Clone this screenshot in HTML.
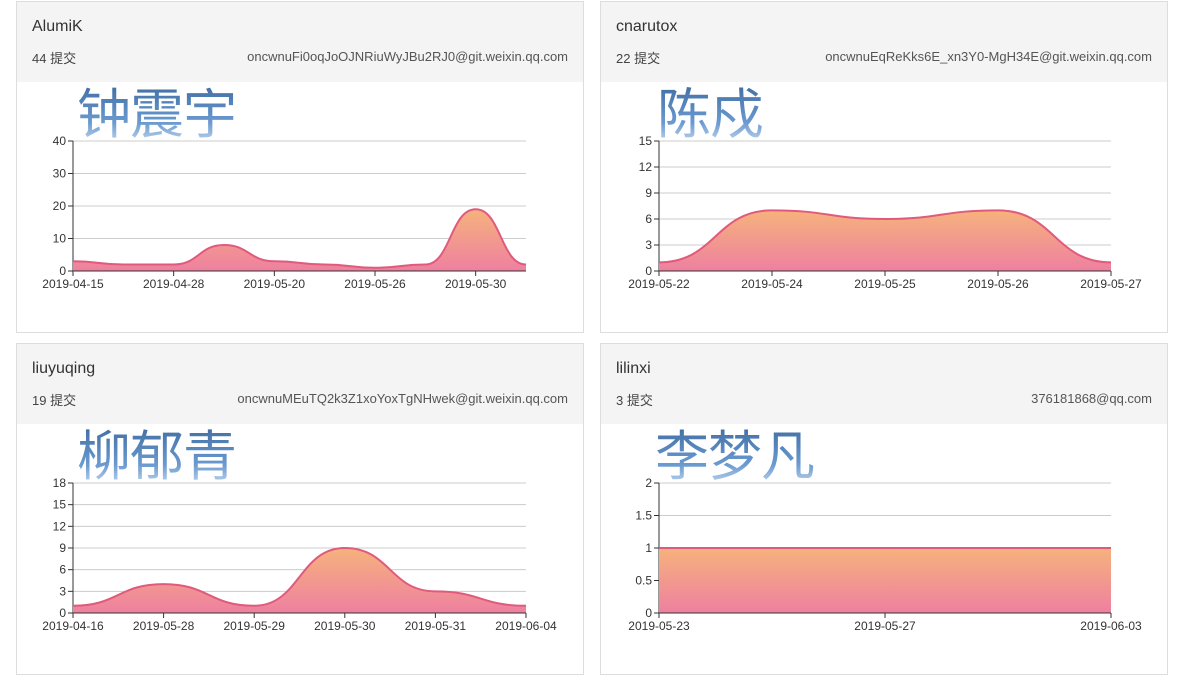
<!DOCTYPE html>
<html><head><meta charset="utf-8">
<style>
body{margin:0;width:1200px;height:675px;background:#fff;font-family:"Liberation Sans","Noto Sans CJK SC",sans-serif;position:relative;overflow:hidden}
.panel{position:absolute;width:568px;height:332px;border:1px solid #ddd;box-sizing:border-box;background:#fff}
.hdr{position:absolute;left:0;top:0;right:0;height:80px;background:#f4f4f4}
.title{position:absolute;left:15px;top:16px;font-size:16px;color:#333}
.cnt{position:absolute;left:15px;top:46px;font-size:13px;color:#444}
.mail{position:absolute;right:15px;top:47px;font-size:13px;color:#555}
.name{position:absolute;top:78px;font-size:54px;font-family:"Noto Sans CJK SC",sans-serif;line-height:64px;background:linear-gradient(#3a679c,#6a9ad0 70%,#bcd3ec);-webkit-background-clip:text;background-clip:text;color:transparent;letter-spacing:-1px}
svg{position:absolute;left:0;top:0}
</style></head><body>
<div class="panel" style="left:16px;top:1px"><div class="hdr"><div class="title">AlumiK</div><div class="cnt">44 提交</div><div class="mail">oncwnuFi0oqJoOJNRiuWyJBu2RJ0@git.weixin.qq.com</div></div></div>
<div class="panel" style="left:600px;top:1px"><div class="hdr"><div class="title">cnarutox</div><div class="cnt">22 提交</div><div class="mail">oncwnuEqReKks6E_xn3Y0-MgH34E@git.weixin.qq.com</div></div></div>
<div class="panel" style="left:16px;top:343px"><div class="hdr"><div class="title">liuyuqing</div><div class="cnt">19 提交</div><div class="mail">oncwnuMEuTQ2k3Z1xoYoxTgNHwek@git.weixin.qq.com</div></div></div>
<div class="panel" style="left:600px;top:343px"><div class="hdr"><div class="title">lilinxi</div><div class="cnt">3 提交</div><div class="mail">376181868@qq.com</div></div></div>
<div class="name" style="left:77px">钟震宇</div>
<div class="name" style="left:657px">陈戍</div>
<div class="name" style="left:77px;top:420px">柳郁青</div>
<div class="name" style="left:655px;top:420px">李梦凡</div>
<svg id="chart" width="1200" height="675"></svg>
<script>
const cats1=["2019-04-15","2019-04-20","2019-04-28","2019-05-05","2019-05-20","2019-05-22","2019-05-26","2019-05-28","2019-05-30","2019-06-01"];
const vals1=[3,2,2,8,3,2,1,2,19,2];
const ticks1=[0,10,20,30,40];
const cats2=["2019-05-22","2019-05-24","2019-05-25","2019-05-26","2019-05-27"];
const vals2=[1,7,6,7,1];
const ticks2=[0,3,6,9,12,15];
const cats3=["2019-04-16","2019-05-28","2019-05-29","2019-05-30","2019-05-31","2019-06-04"];
const vals3=[1,4,1,9,3,1];
const ticks3=[0,3,6,9,12,15,18];
const cats4=["2019-05-23","2019-05-27","2019-06-03"];
const vals4=[1,1,1];
const ticks4=[0,0.5,1,1.5,2];
const NS="http://www.w3.org/2000/svg";
const svg=document.getElementById('chart');
function mk(t,a,p){const e=document.createElementNS(NS,t);for(const k in a)e.setAttribute(k,a[k]);(p||svg).appendChild(e);return e;}
const defs=mk('defs',{});
const g=mk('linearGradient',{id:'fillg',x1:0,y1:0,x2:0,y2:1},defs);
mk('stop',{offset:0,'stop-color':'#f6b27c'},g);mk('stop',{offset:1,'stop-color':'#ee80a0'},g);
function chart(x0,x1,y0,y1,cats,vals,ticks,step,name){
  const max=ticks[ticks.length-1];
  const X=i=>x0+(x1-x0)*i/(cats.length-1);
  const Y=v=>y0-(y0-y1)*v/max;
  ticks.forEach(t=>{
    const l=mk('line',{x1:x0,x2:x1,y1:Y(t),y2:Y(t),stroke:t===0?'#333':'#ccc','stroke-width':1});
    
    
    mk('line',{x1:x0-5,x2:x0,y1:Y(t),y2:Y(t),stroke:'#333'});
    const tx=mk('text',{x:x0-7,y:Y(t)+4,'text-anchor':'end','font-size':12,fill:'#333','font-family':'Liberation Sans, sans-serif'});
    tx.textContent=t;
    
    
  });
  mk('line',{x1:x0,x2:x0,y1:y1,y2:y0,stroke:'#333'});
  let d='M'+X(0)+','+Y(vals[0]);
  for(let i=1;i<vals.length;i++){const xa=X(i-1),xb=X(i),m=(xb-xa)/2;d+=' C'+(xa+m)+','+Y(vals[i-1])+' '+(xb-m)+','+Y(vals[i])+' '+xb+','+Y(vals[i]);}
  const area=mk('path',{d:d+' L'+X(vals.length-1)+','+y0+' L'+x0+','+y0+' Z',fill:'url(#fillg)'});
  
  
  const line=mk('path',{d:d,fill:'none',stroke:'#e05a7e','stroke-width':2});
  
  
  mk('line',{x1:x0,x2:x1,y1:y0,y2:y0,stroke:'#333'});
  cats.forEach((c,i)=>{
    if(i%step)return;
    mk('line',{x1:X(i),x2:X(i),y1:y0,y2:y0+5,stroke:'#333'});
    const tx=mk('text',{x:X(i),y:y0+17,'text-anchor':'middle','font-size':12,fill:'#333','font-family':'Liberation Sans, sans-serif'});
    tx.textContent=c;
    
    
  });
}
chart(73,526,271,141,cats1,vals1,ticks1,2,'alumik');
chart(659,1111,271,141,cats2,vals2,ticks2,1,'cnarutox');
chart(73,526,613,483,cats3,vals3,ticks3,1,'liuyuqing');
chart(659,1111,613,483,cats4,vals4,ticks4,1,'lilinxi');
</script>
</body></html>
